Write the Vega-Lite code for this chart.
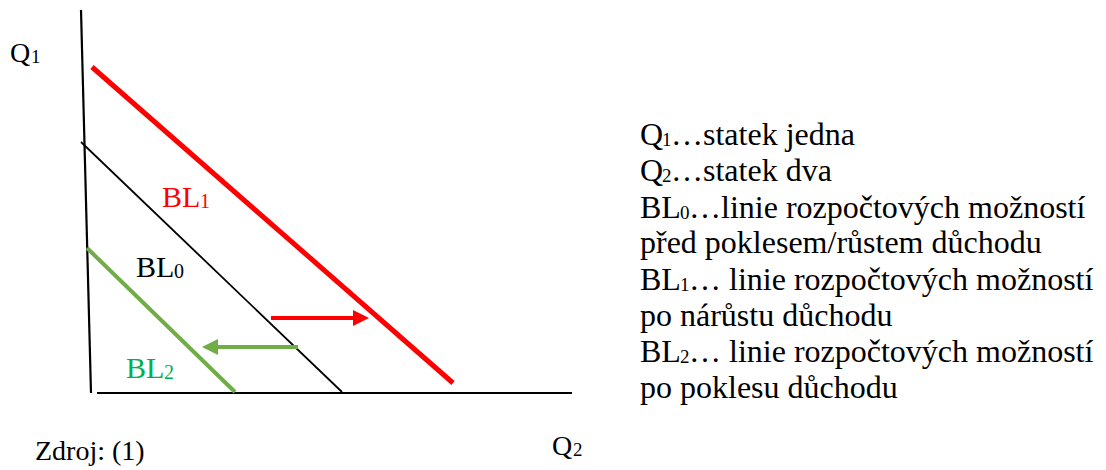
{
  "$schema": "https://vega.github.io/schema/vega-lite/v6.json",
  "width": 1106,
  "height": 470,
  "autosize": {"type": "fit", "contains": "padding"},
  "padding": 0,
  "background": "white",
  "config": {"view": {"stroke": null}},
  "datasets": {
    "segments": [
      {"element": "Q1 axis", "x": -10, "y": 383, "x2": 0, "y2": 0},
      {"element": "Q2 axis", "x": 6, "y": 0, "x2": 481, "y2": 0},
      {"element": "BL1", "x": 1, "y": 326, "x2": 362, "y2": 10},
      {"element": "BL0", "x": -10, "y": 251, "x2": 251, "y2": 1},
      {"element": "BL2", "x": -4, "y": 145, "x2": 144, "y2": 1},
      {"element": "shift up", "x": 180, "y": 75, "x2": 266, "y2": 75},
      {"element": "shift down", "x": 207, "y": 46, "x2": 121, "y2": 46}
    ],
    "heads": [
      {"element": "shift up", "x": 270, "y": 75, "dir": "right"},
      {"element": "shift down", "x": 119, "y": 46, "dir": "left"}
    ],
    "labels": [
      {"element": "legend", "group": "diagram", "role": "main", "x": -81, "y": 331, "text": "Q"},
      {"element": "legend", "group": "diagram", "role": "sub", "x": -60, "y": 330, "text": "1"},
      {"element": "legend", "group": "diagram", "role": "main", "x": 461, "y": -62, "text": "Q"},
      {"element": "legend", "group": "diagram", "role": "sub", "x": 482, "y": -63, "text": "2"},
      {"element": "legend", "group": "diagram", "role": "main", "x": -56, "y": -67, "text": "Zdroj: (1)"},
      {"element": "BL1", "group": "diagram", "role": "label", "x": 71, "y": 186, "text": "BL"},
      {"element": "BL1", "group": "diagram", "role": "labelsub", "x": 109, "y": 185, "text": "1"},
      {"element": "BL0", "group": "diagram", "role": "label", "x": 45, "y": 116, "text": "BL"},
      {"element": "BL0", "group": "diagram", "role": "labelsub", "x": 83, "y": 115, "text": "0"},
      {"element": "BL2 label", "group": "diagram", "role": "label", "x": 35, "y": 15, "text": "BL"},
      {"element": "BL2 label", "group": "diagram", "role": "labelsub", "x": 73, "y": 14, "text": "2"},
      {"element": "legend", "group": "key", "role": "main", "x": 549, "y": 248, "text": "Q"},
      {"element": "legend", "group": "key", "role": "sub", "x": 571, "y": 247, "text": "1"},
      {"element": "legend", "group": "key", "role": "main", "x": 580, "y": 248, "text": "…statek jedna"},
      {"element": "legend", "group": "key", "role": "main", "x": 549, "y": 212, "text": "Q"},
      {"element": "legend", "group": "key", "role": "sub", "x": 571, "y": 211, "text": "2"},
      {"element": "legend", "group": "key", "role": "main", "x": 580, "y": 212, "text": "…statek dva"},
      {"element": "legend", "group": "key", "role": "main", "x": 549, "y": 175, "text": "BL"},
      {"element": "legend", "group": "key", "role": "sub", "x": 589, "y": 174, "text": "0"},
      {"element": "legend", "group": "key", "role": "main", "x": 598, "y": 175, "text": "…linie rozpočtových možností"},
      {"element": "legend", "group": "key", "role": "main", "x": 549, "y": 140, "text": "před poklesem/růstem důchodu"},
      {"element": "legend", "group": "key", "role": "main", "x": 549, "y": 103, "text": "BL"},
      {"element": "legend", "group": "key", "role": "sub", "x": 589, "y": 102, "text": "1"},
      {"element": "legend", "group": "key", "role": "main", "x": 598, "y": 103, "text": "… linie rozpočtových možností"},
      {"element": "legend", "group": "key", "role": "main", "x": 549, "y": 67, "text": "po nárůstu důchodu"},
      {"element": "legend", "group": "key", "role": "main", "x": 549, "y": 31, "text": "BL"},
      {"element": "legend", "group": "key", "role": "sub", "x": 589, "y": 30, "text": "2"},
      {"element": "legend", "group": "key", "role": "main", "x": 598, "y": 31, "text": "… linie rozpočtových možností"},
      {"element": "legend", "group": "key", "role": "main", "x": 549, "y": -5, "text": "po poklesu důchodu"}
    ]
  },
  "encoding": {
    "x": {"field": "x", "type": "quantitative", "scale": {"domain": [-91, 1015], "nice": false, "zero": false}, "axis": null},
    "y": {"field": "y", "type": "quantitative", "scale": {"domain": [-77, 393], "nice": false, "zero": false}, "axis": null},
    "color": {
      "field": "element",
      "type": "nominal",
      "legend": null,
      "scale": {
        "domain": ["Q1 axis", "Q2 axis", "BL0", "BL1", "BL2", "shift up", "shift down", "legend", "BL2 label"],
        "range": ["#000000", "#000000", "#000000", "#FF0000", "#70AD47", "#FF0000", "#70AD47", "#000000", "#00B050"]
      }
    }
  },
  "layer": [
    {
      "data": {"name": "segments"},
      "transform": [{"filter": "datum.element === 'Q1 axis' || datum.element === 'Q2 axis'"}],
      "mark": {"type": "rule", "strokeWidth": 2.2},
      "encoding": {"x2": {"field": "x2"}, "y2": {"field": "y2"}}
    },
    {
      "data": {"name": "segments"},
      "transform": [{"filter": "datum.element === 'BL0'"}],
      "mark": {"type": "rule", "strokeWidth": 1.8},
      "encoding": {"x2": {"field": "x2"}, "y2": {"field": "y2"}}
    },
    {
      "data": {"name": "segments"},
      "transform": [{"filter": "datum.element === 'BL1'"}],
      "mark": {"type": "rule", "strokeWidth": 5},
      "encoding": {"x2": {"field": "x2"}, "y2": {"field": "y2"}}
    },
    {
      "data": {"name": "segments"},
      "transform": [{"filter": "datum.element === 'BL2' || datum.element === 'shift up' || datum.element === 'shift down'"}],
      "mark": {"type": "rule", "strokeWidth": 4},
      "encoding": {"x2": {"field": "x2"}, "y2": {"field": "y2"}}
    },
    {
      "data": {"name": "heads"},
      "mark": {"type": "point", "filled": true, "opacity": 1, "size": 256},
      "encoding": {
        "shape": {
          "field": "dir",
          "type": "nominal",
          "legend": null,
          "scale": {"domain": ["right", "left"], "range": ["M-1,-1L1,0L-1,1Z", "M1,-1L-1,0L1,1Z"]}
        }
      }
    },
    {
      "data": {"name": "labels"},
      "transform": [{"filter": "datum.role === 'main' && datum.group === 'diagram'"}],
      "mark": {"type": "text", "font": "Liberation Serif", "fontSize": 28, "align": "left", "baseline": "alphabetic"},
      "encoding": {"text": {"field": "text"}}
    },
    {
      "data": {"name": "labels"},
      "transform": [{"filter": "datum.role === 'sub' && datum.group === 'diagram'"}],
      "mark": {"type": "text", "font": "Liberation Serif", "fontSize": 19, "align": "left", "baseline": "alphabetic"},
      "encoding": {"text": {"field": "text"}}
    },
    {
      "data": {"name": "labels"},
      "transform": [{"filter": "datum.role === 'label'"}],
      "mark": {"type": "text", "font": "Liberation Serif", "fontSize": 30, "align": "left", "baseline": "alphabetic"},
      "encoding": {"text": {"field": "text"}}
    },
    {
      "data": {"name": "labels"},
      "transform": [{"filter": "datum.role === 'labelsub'"}],
      "mark": {"type": "text", "font": "Liberation Serif", "fontSize": 20, "align": "left", "baseline": "alphabetic"},
      "encoding": {"text": {"field": "text"}}
    },
    {
      "data": {"name": "labels"},
      "transform": [{"filter": "datum.role === 'main' && datum.group === 'key'"}],
      "mark": {"type": "text", "font": "Liberation Serif", "fontSize": 32, "align": "left", "baseline": "alphabetic"},
      "encoding": {"text": {"field": "text"}}
    },
    {
      "data": {"name": "labels"},
      "transform": [{"filter": "datum.role === 'sub' && datum.group === 'key'"}],
      "mark": {"type": "text", "font": "Liberation Serif", "fontSize": 19, "align": "left", "baseline": "alphabetic"},
      "encoding": {"text": {"field": "text"}}
    }
  ]
}
